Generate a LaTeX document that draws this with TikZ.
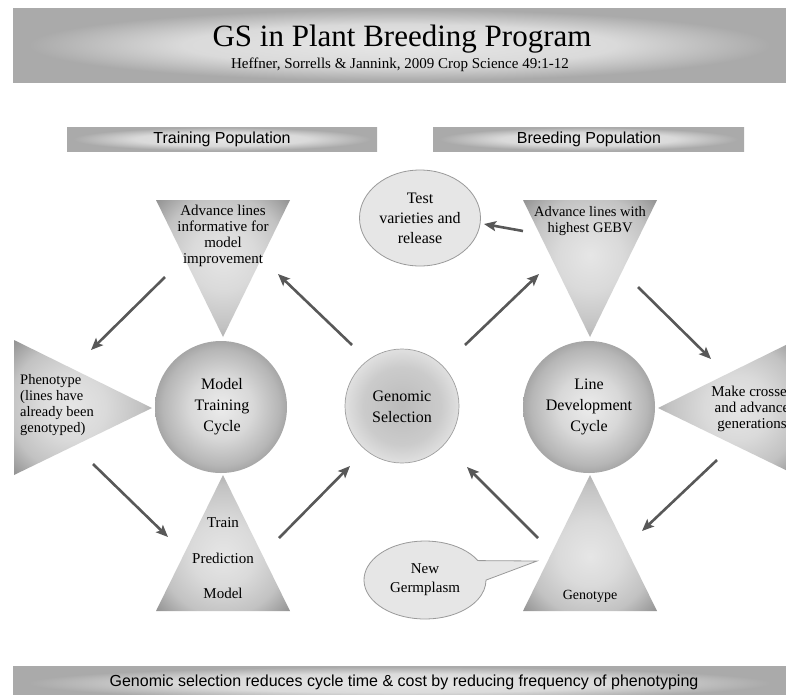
\documentclass[tikz,border=0pt]{standalone}
\usepackage{fontspec}
\setmainfont{Liberation Serif}
\newfontfamily\sansf{Liberation Sans}
\usetikzlibrary{arrows.meta,shapes.geometric,shapes.callouts}

\definecolor{bgA}{HTML}{E6E6E6}
\definecolor{bgB}{HTML}{DADADA}
\definecolor{bgC}{HTML}{AAAAAA}
\definecolor{tA}{HTML}{E6E6E6}
\definecolor{tB}{HTML}{DADADA}
\definecolor{tC}{HTML}{C2C2C2}
\definecolor{tD}{HTML}{939393}
\definecolor{cA}{HTML}{ECECEC}
\definecolor{cB}{HTML}{D8D8D8}
\definecolor{cC}{HTML}{B6B6B6}
\definecolor{cD}{HTML}{A6A6A6}
\definecolor{gA}{HTML}{BBBBBB}
\definecolor{gB}{HTML}{CBCBCB}
\definecolor{gC}{HTML}{E0E0E0}
\definecolor{bubble}{HTML}{E6E6E6}
\definecolor{bubbleline}{HTML}{9A9A9A}
\definecolor{arrowc}{HTML}{585858}

\pgfdeclareradialshading{bannerglow}{\pgfpoint{0bp}{0bp}}{color(0bp)=(bgA); color(14bp)=(bgB); color(24bp)=(bgC); color(50bp)=(bgC)}
\pgfdeclareradialshading{trishade}{\pgfpoint{0bp}{5bp}}{color(0bp)=(tA); color(12bp)=(tB); color(24bp)=(tC); color(34bp)=(tD); color(50bp)=(tD)}
\pgfdeclareradialshading{ballshade}{\pgfpoint{0bp}{0bp}}{color(0bp)=(cA); color(12bp)=(cB); color(22bp)=(cC); color(25bp)=(cD); color(50bp)=(cD)}
\pgfdeclareradialshading{gsshade}{\pgfpoint{0bp}{0bp}}{color(0bp)=(gA); color(17bp)=(gB); color(25bp)=(gC); color(50bp)=(gC)}

\begin{document}
\begin{tikzpicture}[x=1pt,y=-1pt,
  arr/.style={draw=arrowc, line width=2.6pt, -{Stealth[length=12pt,width=10pt,inset=2.5pt]}},
  serif/.style={font=\fontsize{15}{16}\selectfont, align=center, inner sep=0pt},
  big/.style={font=\fontsize{16}{21}\selectfont, align=center, inner sep=0pt},
  sanslab/.style={font=\sansf\fontsize{16}{18}\selectfont, inner sep=0pt},
  bubblestyle/.style={draw=bubbleline, fill=bubble, line width=0.8pt, inner sep=0pt, align=center}]
\clip (0,0) rectangle (786,694);
\fill[white] (0,0) rectangle (786,694);

% banners
\shade[shading=bannerglow] (13,8) rectangle (786,82);
\node[inner sep=0pt, anchor=base, font=\fontsize{31}{31}\selectfont] (title) at (402,46) {GS in Plant Breeding Program};
\node[inner sep=0pt, anchor=base, font=\fontsize{15}{15}\selectfont] (cite) at (400,68) {Heffner, Sorrells \& Jannink, 2009 Crop Science 49:1-12};

\shade[shading=bannerglow] (67,127) rectangle (377,151);
\node[sanslab] (trainpop) at (222,139.5) {Training Population};
\shade[shading=bannerglow] (433,127) rectangle (744,151);
\node[sanslab] (breedpop) at (589,139.5) {Breeding Population};

\shade[shading=bannerglow] (13,666) rectangle (786,700);
\node[sanslab] (summary) at (404,682) {Genomic selection reduces cycle time \& cost by reducing frequency of phenotyping};

% triangles
\shade[shading=trishade] (156,200) -- (290,200) -- (223,337) -- cycle;
\shade[shading=trishade, shading angle=180] (223,475) -- (156,611) -- (290,611) -- cycle;
\shade[shading=trishade, shading angle=90] (14,340) -- (14,475) -- (152,408) -- cycle;
\shade[shading=trishade] (523,200) -- (657,200) -- (590,337) -- cycle;
\shade[shading=trishade, shading angle=180] (590,475) -- (523,611) -- (657,611) -- cycle;
\shade[shading=trishade, shading angle=-90] (658,408) -- (796,340) -- (796,475) -- cycle;

% circles
\shade[shading=ballshade] (221,407) circle[radius=66];
\shadedraw[shading=gsshade, draw=gray!75, line width=0.7pt] (402,406) circle[radius=57];
\shade[shading=ballshade] (589,407) circle[radius=66];

% bubbles
\node[bubblestyle, ellipse, minimum width=121pt, minimum height=96pt, font=\fontsize{16}{20}\selectfont] (test) at (420,218) {Test\\varieties and\\release};
\node[bubblestyle, ellipse callout, minimum width=122pt, minimum height=78pt, callout absolute pointer={(537,561)}, callout pointer arc=30, font=\fontsize{15}{19}\selectfont] (germ) at (425,580) {New\\Germplasm};

% texts
\node[serif] (advL) at (223,236) {Advance lines\\informative for\\model\\improvement};
\node[serif, align=left, anchor=west, font=\fontsize{14.5}{16}\selectfont] (pheno) at (20,405) {Phenotype\\(lines have\\already been\\genotyped)};
\node[big] (mtc) at (222,407) {Model\\Training\\Cycle};
\node[big] (gs) at (402,407) {Genomic\\Selection};
\node[big] (ldc) at (589,407) {Line\\Development\\Cycle};
\node[serif] (train) at (223,523) {Train};
\node[serif] (pred) at (223,558) {Prediction};
\node[serif] (model) at (223,593) {Model};
\node[serif, font=\fontsize{14.5}{16}\selectfont] (advR) at (590,221) {Advance lines with\\highest GEBV};
\node[serif] (cross) at (752,409) {Make crosses\\and advance\\generations};
\node[serif, font=\fontsize{14}{16}\selectfont] (geno) at (590,596) {Genotype};

% arrow end points
\coordinate (a1s) at (165,277); \coordinate (a1e) at (91,350);
\coordinate (a2s) at (352,345); \coordinate (a2e) at (278,274);
\coordinate (a3s) at (93,464);  \coordinate (a3e) at (168,537);
\coordinate (a4s) at (279,538); \coordinate (a4e) at (350,466);
\coordinate (a5s) at (465,345); \coordinate (a5e) at (539,274);
\coordinate (a6s) at (638,287); \coordinate (a6e) at (711,359);
\coordinate (a7s) at (717,460); \coordinate (a7e) at (642,531);
\coordinate (a8s) at (538,538); \coordinate (a8e) at (467,467);
\coordinate (a9s) at (523,231); \coordinate (a9e) at (484,224);

\draw[arr] (a1s) -- (a1e);
\draw[arr] (a2s) -- (a2e);
\draw[arr] (a3s) -- (a3e);
\draw[arr] (a4s) -- (a4e);
\draw[arr] (a5s) -- (a5e);
\draw[arr] (a6s) -- (a6e);
\draw[arr] (a7s) -- (a7e);
\draw[arr] (a8s) -- (a8e);
\draw[arr] (a9s) -- (a9e);
\end{tikzpicture}
\end{document}
